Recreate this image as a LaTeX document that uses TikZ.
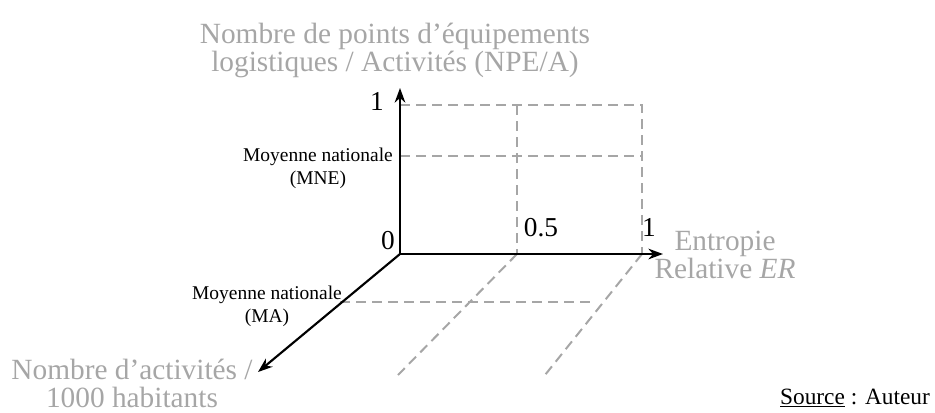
\documentclass[tikz,border=0pt]{standalone}
\usepackage{fontspec}
\setmainfont{Liberation Serif}
\usetikzlibrary{positioning}
\usetikzlibrary{arrows.meta}
\definecolor{axisgray}{RGB}{166,166,166}

\begin{document}
\begin{tikzpicture}[
        x=0.75pt, y=-0.75pt,
        axis/.style={-{Stealth[length=11pt, width=8pt]}, line width=1.6pt},
        guide/.style={draw=axisgray, line width=1.5pt, dash pattern=on 7.5pt off 4.5pt},
        title/.style={text=axisgray, align=center, inner sep=0pt,
                      font=\fontsize{22}{21}\selectfont},
        tick/.style={inner sep=0pt, font=\fontsize{20.5}{21}\selectfont},
        mean/.style={align=center, inner sep=0pt, font=\fontsize{14.6}{17}\selectfont}
    ]
        \useasboundingbox (0,0) rectangle (935,412);

        % axes
        \coordinate (O) at (400,254);
        \coordinate (ytop) at (400,88);
        \coordinate (xend) at (663,254);
        \coordinate (zend) at (258,372);
        \coordinate (y1) at (400,105);
        \coordinate (ymne) at (400,156);
        \coordinate (xhalf) at (517,254);
        \coordinate (xone) at (642,254);
        \coordinate (zma) at (340,302);
        \coordinate (maend) at (593,302);
        \coordinate (halfend) at (398,375);
        \coordinate (oneend) at (545,375);

        % guides
        \draw[guide] (y1) -- (y1 -| xone) -- (xone);
        \draw[guide] (ymne) -- (ymne -| xone);
        \draw[guide] (y1 -| xhalf) -- (xhalf);
        \draw[guide] (zma) -- (maend);
        \draw[guide] (xhalf) -- (halfend);
        \draw[guide] (xone) -- (oneend);

        \draw[axis] (O) -- (ytop);
        \draw[axis] (O) -- (xend);
        \draw[axis] (O) -- (zend);

        % labels
        \node[tick] (yone) at (377,101) {1};
        \node[tick] (zero) at (388,241) {0};
        \node[tick] (half) at (541,228) {0.5};
        \node[tick] (xonelab) at (649,227) {1};
        \node[title] (npe) at (395,50) {Nombre de points d’équipements\\logistiques / Activités (NPE/A)};
        \node[title] (er) at (725,255) {Entropie\\Relative \textit{ER}};
        \node[title] (nba) at (132,383) {Nombre d’activités /\\1000 habitants};
        \node[mean] (mne) at (318,168) {Moyenne nationale\\(MNE)};
        \node[mean] (ma) at (267,306) {Moyenne nationale\\(MA)};
        \node[inner sep=0pt, font=\fontsize{17.5}{17}\selectfont] (src) at (855,398) {\underline{Source} : Auteur};
    \end{tikzpicture}
\end{document}
